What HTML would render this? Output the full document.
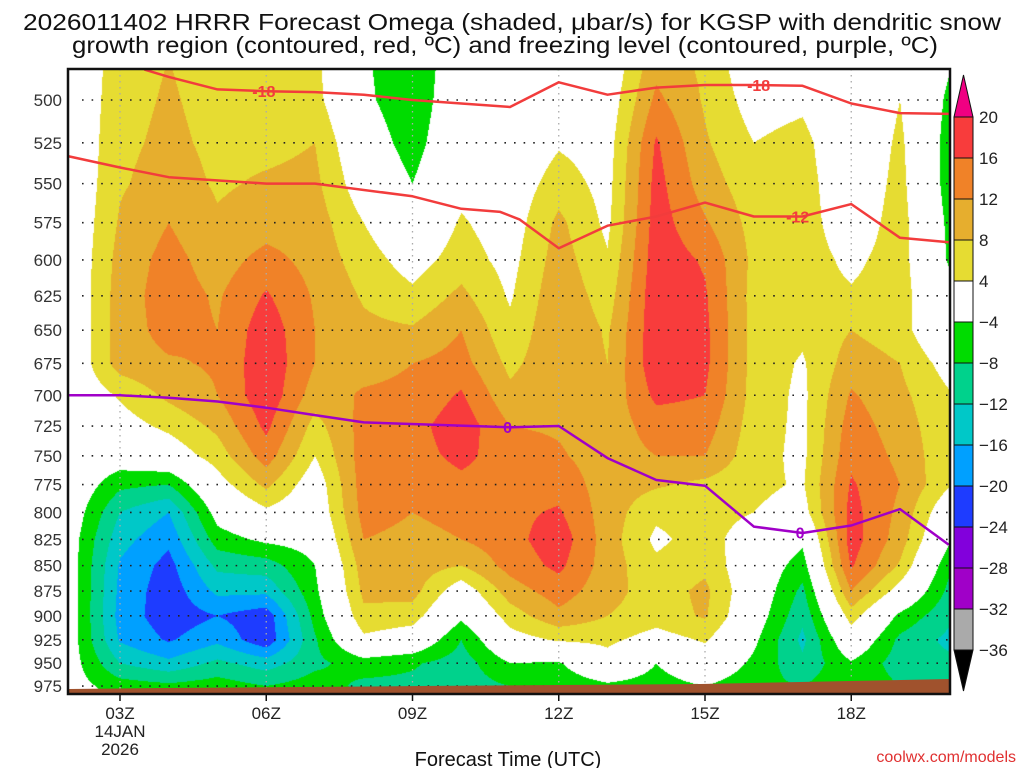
<!DOCTYPE html>
<html><head><meta charset="utf-8">
<style>
html,body{margin:0;padding:0;background:#fff;}
#wrap{position:relative;width:1024px;height:768px;overflow:hidden;font-family:"Liberation Sans",sans-serif;}
#fill{position:absolute;left:0;top:0;}
#over{position:absolute;left:0;top:0;}
</style></head>
<body>
<div id="wrap">
<canvas id="fill" width="1024" height="768"></canvas>
<svg id="over" width="1024" height="768" xmlns="http://www.w3.org/2000/svg">
<text x="512" y="30" text-anchor="middle" font-size="23" textLength="978" lengthAdjust="spacingAndGlyphs" fill="#111">2026011402 HRRR Forecast Omega (shaded, μbar/s) for KGSP with dendritic snow</text>
<text x="505" y="53" text-anchor="middle" font-size="23" textLength="866" lengthAdjust="spacingAndGlyphs" fill="#111">growth region (contoured, red, ºC) and freezing level (contoured, purple, ºC)</text>
<g id="grid"></g>
<g id="lines"></g>
<g id="axes"></g>
<g id="cbar"></g>
<text x="508" y="766" text-anchor="middle" font-size="20" fill="#111">Forecast Time (UTC)</text>
<text x="1016" y="762" text-anchor="end" font-size="16" fill="#e03030">coolwx.com/models</text>
</svg>
</div>
<script>
// ---- data ----
const hours = [2,3,4,5,6,7,8,9,10,11,12,13,14,15,16,17,18,19,20];
const levels = [475,500,525,550,575,600,625,650,675,700,725,750,775,800,825,850,875,900,925,950,975,1000];
const omega = [
[0,0,0,0,0,0,0,0,0,0,0,0,0,-1,-2,-2,-2,-2,-2,-2,-2,-2],
[6,6.5,7,7.5,8.5,9.5,10,10,10,4.5,2,-1,-7,-12,-14.5,-16.5,-17,-17.5,-16.5,-12,-6,-3],
[8,8.5,9,10,12,13.5,14,13.5,11.5,9,5,1,-8,-16,-19,-21.5,-22.5,-22.5,-20.5,-15,-7,-4],
[6,6.5,7,7.5,8.5,10,11.5,12,12.5,12,9,6,2,-2,-6,-11,-15,-20,-17,-11,-6,-4],
[5,6,7,8.5,10,13.5,16.5,18.5,19,19,17,14,9,3,-3,-10,-15,-22.5,-23,-14,-8,-4],
[5,5.5,8,9,10,10.5,11.5,12,12,10,6.5,4,1,0,-2,-4,-5,-6.5,-8.5,-9,-6,-4],
[-3.5,-3,-1,1,4,6,7.5,9,10.5,12.5,13.5,14,14,13.5,12,10,9,7,3,-6,-9,-4],
[-7,-7,-6,-4,-1,2,5,8.5,12,13,14.5,14.5,13.5,12,11,10,9.5,6,1,-7.5,-9,-4],
[-1,0,1,2.5,4.5,6,9,12,13.5,16.5,18.5,17,15,13,12,8,1,-3,-8,-10,-10,-4],
[-2,-1,0,1,1.5,2.5,3.5,5,7,9,12,14,14.5,15,14.5,13.5,10,6,2,-4,-8,-4],
[-6,0,3.5,6,9,10,11,11.5,11,11,11.5,12.5,14.5,16.5,18.5,17,14,11,4.5,-4.5,-7,-4],
[0,1,2,2.5,3,4.5,6,7.5,8,9,9.5,10,10,10,10,10,9.5,8,5,2,-5,-4],
[10,13,16.5,17.5,18,18.5,19,19,19,17,14,12,8.5,5,3,5,6,6,2,-4,-6,-4],
[7,7.5,8.5,10,12.5,15.5,16.5,17,17,16,14,12,7,6,6,7,9,8.5,4.5,1,-4,-4],
[0,2,4,5.5,6.5,7,6.5,6.5,6.5,6.5,6,5.5,5,4,1,0,0,-1,-3,-5,-7,-4],
[-1,3,5.5,6,6,6,5.5,5,3.5,3,3,3,3.5,2,-3,-6,-9,-11,-13,-11,-8,-4],
[-3,-2,-1,0,1,3,4.5,8,10,12.5,14,15,16.5,17.5,18,16.5,12,6,1,-4.5,-5,-4],
[2,4,5,5.5,6,6,6,6,8,9,10,11,12,11,10,7.5,2,-5,-9,-10,-8,-4],
[-3,-5,-6,-6,-5,-4.5,-2,-2,2,4.5,5,5,4.5,0,-3,-7,-9,-11,-13,-11,-8,-4]
];
const dgzUpperHours = [3.5,4,5,6,7,8,9,10,11,12,13,14,15,16,17,18,19,20];
const dgzUpperP = [483,487,494,495,495.5,497,500,502,504,490,497,493,491.5,491.5,492,502,507.5,508];
const dgzLowerHours = [1.93,3,4,6,7,9,10,10.8,11.2,12,13,14,15,16,17,18,19,20];
const dgzLowerP = [533,540,546,550,550,558,566,568,573,592,577,571,562,571,571,563,585,588];
const frzHours = [1.93,3,4,5,6,7,8,11,12,13,14,15,16,17,18,19,20];
const frzP = [700,700,702,705,710,716,722,726,725,752,771,776,813,819,812,797,830];
const pTicks = [500,525,550,575,600,625,650,675,700,725,750,775,800,825,850,875,900,925,950,975];
const hTicks = [3,6,9,12,15,18];
const hTickLabels = ["03Z","06Z","09Z","12Z","15Z","18Z"];
const cbarLevels = [20,16,12,8,4,-4,-8,-12,-16,-20,-24,-28,-32,-36];
const cbarColors = ["#f83c3c","#f08228","#e6ae2e","#e6dc32","#ffffff","#00dc00","#00d28c","#00c8c8","#00a0ff","#1e3cff","#8200dc","#a000c8","#aaaaaa"];

// ---- axes ----
const L=68,R=950,T=69,B=694;
function xOf(h){return 120+(h-3)*48.75;}
function yOf(p){return 100+877.5*Math.log(p/500);}
function colorFor(v){
  if(v>=20) return "#f00082";
  if(v>=16) return cbarColors[0];
  if(v>=12) return cbarColors[1];
  if(v>=8) return cbarColors[2];
  if(v>=4) return cbarColors[3];
  if(v>-4) return cbarColors[4];
  if(v>-8) return cbarColors[5];
  if(v>-12) return cbarColors[6];
  if(v>-16) return cbarColors[7];
  if(v>-20) return cbarColors[8];
  if(v>-24) return cbarColors[9];
  if(v>-28) return cbarColors[10];
  if(v>-32) return cbarColors[11];
  return cbarColors[12];
}
function hex(c){return [parseInt(c.slice(1,3),16),parseInt(c.slice(3,5),16),parseInt(c.slice(5,7),16)];}

// ---- shading ----
const cv=document.getElementById('fill');
const ctx=cv.getContext('2d');
ctx.fillStyle="#fff";ctx.fillRect(0,0,1024,768);
const img=ctx.getImageData(0,0,1024,768);
const rowY=levels.map(yOf);
for(let y=T;y<B;y++){
  let j=0; while(j<rowY.length-2 && y+0.5>rowY[j+1]) j++;
  let fy=(y+0.5-rowY[j])/(rowY[j+1]-rowY[j]); fy=Math.max(0,Math.min(1,fy));
  for(let x=L;x<R;x++){
    let hf=3+(x+0.5-120)/48.75-hours[0];
    let i=Math.floor(hf); if(i<0)i=0; if(i>hours.length-2)i=hours.length-2;
    let fx=Math.max(0,Math.min(1,hf-i));
    const a=omega[i][j],b=omega[i+1][j],c=omega[i][j+1],d=omega[i+1][j+1];
    const v=(a*(1-fx)+b*fx)*(1-fy)+(c*(1-fx)+d*fx)*fy;
    const rgb=hex(colorFor(v));
    const k=(y*1024+x)*4;
    img.data[k]=rgb[0];img.data[k+1]=rgb[1];img.data[k+2]=rgb[2];img.data[k+3]=255;
  }
}
ctx.putImageData(img,0,0);

const NS="http://www.w3.org/2000/svg";
function mk(tag,attrs,parent){const e=document.createElementNS(NS,tag);for(const k in attrs)e.setAttribute(k,attrs[k]);parent.appendChild(e);return e;}

// ground
const axes=document.getElementById('axes');
const ground=mk('polygon',{points:"69,689 160,688 300,687 420,686 560,685 700,684 850,681 949,679 949,693 69,693",fill:"#a0522d"},axes);



// grid
const grid=document.getElementById('grid');
pTicks.forEach(p=>{
  const y=yOf(p);
  const ln=mk('line',{x1:L+14,x2:R,y1:y,y2:y,stroke:"#222","stroke-width":1.6,"stroke-dasharray":"1.6 8"},grid);
  
  
  const t=mk('text',{x:62,y:y+6,"text-anchor":"end","font-size":17,fill:"#333"},axes);
  t.textContent=p;
  
  
});
hTicks.forEach((h,i)=>{
  const x=xOf(h);
  const ln=mk('line',{x1:x,x2:x,y1:T,y2:B,stroke:"#aaa","stroke-width":1.3,"stroke-dasharray":"1.5 4.5"},grid);
  
  
  const tk=mk('line',{x1:x,x2:x,y1:B,y2:B+7,stroke:"#111","stroke-width":1.5},axes);
  
  
  const t=mk('text',{x:x,y:B+25,"text-anchor":"middle","font-size":17,fill:"#222"},axes);
  t.textContent=hTickLabels[i];
  
  
});
const d1=mk('text',{x:xOf(3),y:B+43,"text-anchor":"middle","font-size":17,fill:"#222"},axes);
d1.textContent="14JAN";


const d2=mk('text',{x:xOf(3),y:B+61,"text-anchor":"middle","font-size":17,fill:"#222"},axes);
d2.textContent="2026";


const frame=mk('rect',{x:L,y:T,width:R-L,height:B-T,fill:"none",stroke:"#111","stroke-width":2.5},axes);



// contour lines
const lines=document.getElementById('lines');
function drawLine(hs,ps,color,name){
  const pts=hs.map((h,i)=>xOf(h).toFixed(1)+","+yOf(ps[i]).toFixed(1)).join(" ");
  const pl=mk('polyline',{points:pts,fill:"none",stroke:color,"stroke-width":2.5,"stroke-linejoin":"round"},lines);
  
  
}
function lineLabel(hs,ps,h,txt,color,name){
  let i=0; while(i<hs.length-2 && hs[i+1]<h) i++;
  const f=(h-hs[i])/(hs[i+1]-hs[i]);
  const p=ps[i]+(ps[i+1]-ps[i])*f;
  const t=mk('text',{x:xOf(h),y:yOf(p)+6,"text-anchor":"middle","font-size":16,"font-weight":"bold",fill:color},lines);
  t.textContent=txt;
  
  
}
drawLine(dgzUpperHours,dgzUpperP,"#f23c3c","dgz-upper-isotherm");
drawLine(dgzLowerHours,dgzLowerP,"#f23c3c","dgz-lower-isotherm");
drawLine(frzHours,frzP,"#a000c8","freezing-level-line");
lineLabel(dgzUpperHours,dgzUpperP,5.95,"-18","#f23c3c","isotherm-label-18a");
lineLabel(dgzUpperHours,dgzUpperP,16.1,"-18","#f23c3c","isotherm-label-18b");
lineLabel(dgzLowerHours,dgzLowerP,16.9,"-12","#f23c3c","isotherm-label-12");
lineLabel(frzHours,frzP,10.95,"0","#a000c8","freezing-label-a");
lineLabel(frzHours,frzP,16.95,"0","#a000c8","freezing-label-b");

// colorbar
const cb=document.getElementById('cbar');
const cbx=954,cbw=19,cbTop=117,step=41;
const up=mk('polygon',{points:`${cbx},${cbTop} ${cbx+cbw},${cbTop} ${cbx+cbw/2},75`,fill:"#f00082",stroke:"#111","stroke-width":1},cb);


cbarColors.forEach((c,i)=>{
  const r=mk('rect',{x:cbx,y:cbTop+i*step,width:cbw,height:step,fill:c,stroke:"#111","stroke-width":1},cb);
  
  
});
const dn=mk('polygon',{points:`${cbx},${cbTop+13*step} ${cbx+cbw},${cbTop+13*step} ${cbx+cbw/2},691`,fill:"#000",stroke:"#111","stroke-width":1},cb);


cbarLevels.forEach((v,i)=>{
  const t=mk('text',{x:979,y:cbTop+i*step+6,"font-size":17,fill:"#222"},cb);
  t.textContent=v<0?"−"+Math.abs(v):String(v);
  
  
});
</script>
</body></html>
